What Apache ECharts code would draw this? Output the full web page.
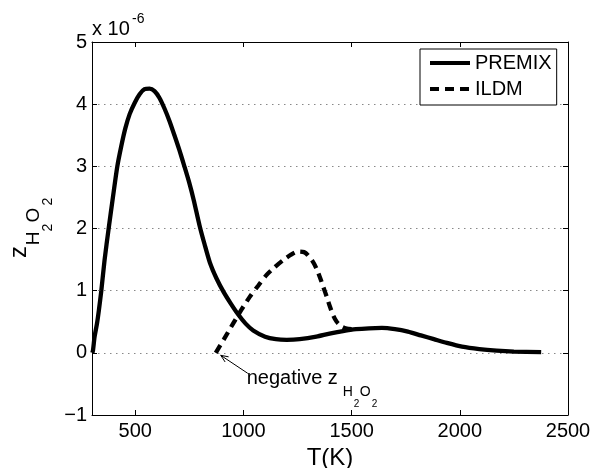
<!DOCTYPE html>
<html><head><meta charset="utf-8">
<script src="https://cdn.jsdelivr.net/npm/echarts@6/dist/echarts.min.js"></script>
<style>html,body{margin:0;padding:0;background:#fff;overflow:hidden}#c{width:593px;height:468px}</style>
</head><body><div id="c"></div>
<script>
// PREMIX curve (T in K, z in units of 1e-6)
const premixT = [302, 305, 312, 323, 332, 343, 358, 377, 397, 417, 435, 454, 474, 497, 520, 543, 566, 589, 612, 635, 658, 681, 704, 727, 750, 770, 797, 820, 845, 875, 908, 940, 975, 1010, 1045, 1100, 1150, 1200, 1260, 1337, 1398, 1460, 1520, 1580, 1640, 1700, 1760, 1820, 1880, 1940, 2010, 2090, 2170, 2250, 2376];
const premixZ = [0, 0.05, 0.26, 0.47, 0.69, 1.0, 1.49, 2.0, 2.51, 3.0, 3.32, 3.61, 3.84, 4.02, 4.16, 4.24, 4.25, 4.21, 4.1, 3.93, 3.73, 3.5, 3.26, 3.0, 2.73, 2.46, 2.05, 1.75, 1.45, 1.2, 0.98, 0.8, 0.62, 0.47, 0.36, 0.26, 0.22, 0.21, 0.22, 0.26, 0.31, 0.35, 0.38, 0.395, 0.4, 0.38, 0.34, 0.28, 0.22, 0.16, 0.1, 0.06, 0.035, 0.02, 0.01];
// ILDM curve
const ildmT = [872, 910, 952, 990, 1029, 1068, 1106, 1145, 1183, 1220, 1252, 1280, 1298, 1320, 1337, 1355, 1369, 1385, 1400, 1415, 1431, 1455, 1477, 1500];
const ildmZ = [0, 0.22, 0.47, 0.69, 0.9, 1.08, 1.25, 1.38, 1.49, 1.58, 1.63, 1.62, 1.57, 1.47, 1.36, 1.2, 1.06, 0.9, 0.74, 0.6, 0.5, 0.42, 0.39, 0.38];
const seriesNames = ['PREMIX', 'ILDM'];
const xTicks = [500, 1000, 1500, 2000, 2500];
const yTicks = [-1, 0, 1, 2, 3, 4, 5];

const FONT = 'Liberation Sans, Arial, Helvetica, sans-serif';
const chart = echarts.init(document.getElementById('c'), null, {renderer: 'canvas', width: 593, height: 468});

const zip = (a, b) => a.map((v, i) => [v, b[i]]);
const tickStyle = {color: '#000', width: 1};

const option = {
  animation: false,
  backgroundColor: '#fff',
  grid: {left: 92, right: 25, top: 42, bottom: 53, containLabel: false, outerBoundsMode: 'none'},
  xAxis: [{
    type: 'value', min: 300, max: 2500, position: 'bottom',
    axisLine: {show: true, onZero: false, lineStyle: tickStyle},
    axisTick: {show: true, inside: true, length: 5, customValues: xTicks, lineStyle: tickStyle},
    axisLabel: {show: true, customValues: xTicks, color: '#000', fontSize: 20, fontFamily: FONT, margin: 6,
      formatter: v => String(v)},
    splitLine: {show: false},
    name: 'T(K)', nameLocation: 'middle', nameGap: 22,
    nameTextStyle: {color: '#000', fontSize: 24, fontFamily: FONT}
  }, {
    type: 'value', min: 300, max: 2500, position: 'top',
    axisLine: {show: true, onZero: false, lineStyle: tickStyle},
    axisTick: {show: true, inside: true, length: 5, customValues: xTicks, lineStyle: tickStyle},
    axisLabel: {show: false}, splitLine: {show: false}
  }],
  yAxis: [{
    type: 'value', min: yTicks[0], max: yTicks[yTicks.length - 1], interval: 1, position: 'left',
    axisLine: {show: true, onZero: false, lineStyle: tickStyle},
    axisTick: {show: true, inside: true, length: 5, lineStyle: tickStyle},
    axisLabel: {color: '#000', fontSize: 20, fontFamily: FONT, margin: 5,
      formatter: v => String(v).replace('-', '\u2212')},
    splitLine: {show: true, lineStyle: {color: '#888', width: 1, type: [1.5, 4.5]}}
  }, {
    type: 'value', min: yTicks[0], max: yTicks[yTicks.length - 1], interval: 1, position: 'right',
    axisLine: {show: true, onZero: false, lineStyle: tickStyle},
    axisTick: {show: true, inside: true, length: 5, lineStyle: tickStyle},
    axisLabel: {show: false}, splitLine: {show: false}
  }],
  legend: {
    data: seriesNames, orient: 'vertical', left: 420, top: 49,
    itemWidth: 40, itemHeight: 14, itemGap: 6, padding: [4, 5, 6, 8],
    borderColor: '#000', borderWidth: 1, backgroundColor: '#fff',
    itemStyle: {color: 'rgba(0,0,0,0)', borderColor: 'rgba(0,0,0,0)', borderWidth: 0},
    lineStyle: {width: 4},
    textStyle: {color: '#000', fontSize: 20, fontFamily: FONT}
  },
  series: [{
    name: seriesNames[0], type: 'line', data: zip(premixT, premixZ),
    showSymbol: false, symbol: 'none', smooth: 0.25,
    lineStyle: {color: '#000', width: 4.3, type: 'solid'}, itemStyle: {color: '#000'}
  }, {
    name: seriesNames[1], type: 'line', data: zip(ildmT, ildmZ),
    showSymbol: false, symbol: 'none', smooth: 0.25,
    lineStyle: {color: '#000', width: 4.3, type: [9, 6]}, itemStyle: {color: '#000'}
  }]
};
chart.setOption(option);

function t(text, x, y, fs, extra) {
  return Object.assign({type: 'text', x: x, y: y, z: 100,
    style: {text: text, fontSize: fs, fontFamily: FONT, fill: '#000', align: 'left', verticalAlign: 'middle'}}, extra || {});
}
function rt(text, x, y, fs) {
  const e = t(text, x, y, fs, {rotation: Math.PI / 2});
  e.style.align = 'center';
  return e;
}

// annotation anchored in data coordinates
const tip = chart.convertToPixel({xAxisIndex: 0, yAxisIndex: 0}, [895, -0.04]);
const tail = chart.convertToPixel({xAxisIndex: 0, yAxisIndex: 0}, [1020, -0.33]);
const ang = Math.atan2(tail[1] - tip[1], tail[0] - tip[0]);
const hl = 8, ha = 0.4;
const txt = chart.convertToPixel({xAxisIndex: 0, yAxisIndex: 0}, [1015, -0.41]);

chart.setOption({graphic: [
  // exponent
  t('x 10', 92, 29, 20),
  t('-6', 132, 19, 14),
  // y-axis label z_{H_2O_2}
  rt('z', 19, 252, 24),
  rt('H', 34, 238.5, 19),
  rt('2', 48, 227.5, 14),
  rt('O', 34, 215, 19),
  rt('2', 48, 201.5, 14),
  // annotation
  {type: 'line', z: 100, shape: {x1: tail[0], y1: tail[1], x2: tip[0], y2: tip[1]}, style: {stroke: '#000', lineWidth: 1}},
  {type: 'polyline', z: 100, shape: {points: [
    [tip[0] + hl * Math.cos(ang + ha), tip[1] + hl * Math.sin(ang + ha)],
    [tip[0], tip[1]],
    [tip[0] + hl * Math.cos(ang - ha), tip[1] + hl * Math.sin(ang - ha)]]},
    style: {stroke: '#000', lineWidth: 1, fill: null}},
  t('negative z', txt[0], txt[1], 20),
  t('H', txt[0] + 96, txt[1] + 14, 14),
  t('2', txt[0] + 107, txt[1] + 25.5, 10),
  t('O', txt[0] + 113, txt[1] + 14, 14),
  t('2', txt[0] + 125, txt[1] + 25.5, 10)
]});
</script>
</body></html>
